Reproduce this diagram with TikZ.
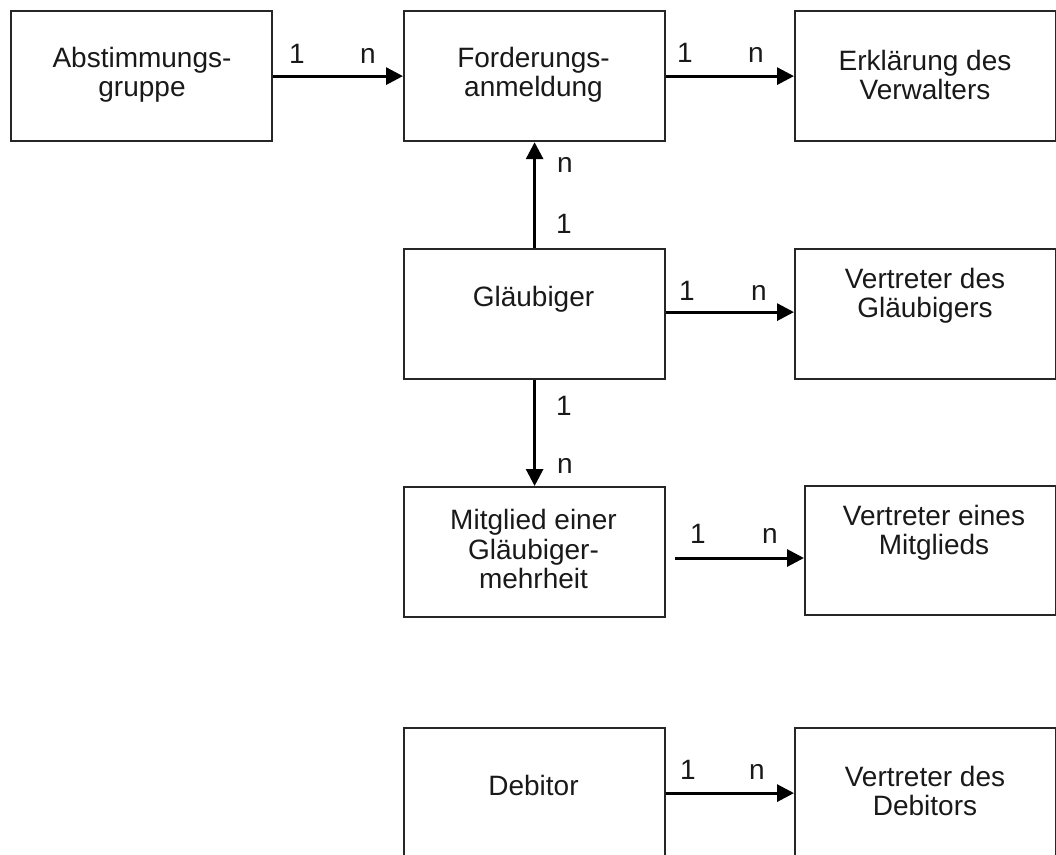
\documentclass[tikz,border=0pt]{standalone}
\usepackage{fontspec}
\setmainfont{Liberation Sans}
\usetikzlibrary{arrows.meta}
\begin{document}
\begin{tikzpicture}[x=1pt,y=-1pt,
  box/.style={draw=black!85,line width=2.2pt,minimum width=261pt,minimum height=130pt,inner sep=0pt,anchor=north west},
  txt/.style={align=center,font=\fontsize{28}{29.5}\selectfont,text=black!90,inner sep=0pt},
  lab/.style={font=\fontsize{28}{29.5}\selectfont,text=black!90,inner sep=0pt,anchor=base},
  conn/.style={line width=3pt,draw=black,-{Triangle[length=17pt,width=17pt]}}]
\useasboundingbox (0,0) rectangle (1056,854);
\begin{scope}
\clip (0,0) rectangle (1056,854);
% boxes
\node[box] (ab) at (10,10) {};
\node[box] (fo) at (403,10) {};
\node[box] (er) at (794,10) {};
\node[box] (gl) at (403,248) {};
\node[box] (vg) at (794,248) {};
\node[box] (mi) at (403,486) {};
\node[box,minimum width=251pt,minimum height=129pt] (vm) at (804,485) {};
\node[box] (de) at (403,727) {};
\node[box] (vd) at (794,727) {};
\end{scope}
% texts
\node[txt] (tab) at (142,75) {Abstimmungs-\\gruppe};
\node[txt] (tfo) at (533.5,75) {Forderungs-\\anmeldung};
\node[txt] (ter) at (925,75) {Erklärung des\\Verwalters};
\node[txt] (tgl) at (533.5,299) {Gläubiger};
\node[txt] (tvg) at (925,296) {Vertreter des\\Gläubigers};
\node[txt] (tmi) at (533.5,549) {Mitglied einer\\Gläubiger-\\mehrheit};
\node[txt] (tvm) at (934,533) {Vertreter eines\\Mitglieds};
\node[txt] (tde) at (533.5,785) {Debitor};
\node[txt] (tvd) at (925,791) {Vertreter des\\Debitors};
% connectors
\draw[conn] (ab.east) -- (fo.west);
\draw[conn] (fo.east) -- (er.west);
\draw[conn] (gl.north) -- (fo.south);
\draw[conn] ([yshift=2pt]gl.east) -- ([yshift=2pt]vg.west);
\draw[conn] (gl.south) -- (mi.north);
\coordinate (ms) at (675,558);
\draw[conn] (ms) -- (ms -| vm.west);
\draw[conn] (de.east) -- (de.east -| vd.west);
% labels
\node[lab] (l1a) at (297,63) {1};
\node[lab] (l1b) at (368,63) {n};
\node[lab] (l2a) at (685,62) {1};
\node[lab] (l2b) at (756,62) {n};
\node[lab] (l3a) at (565,172) {n};
\node[lab] (l3b) at (564,233) {1};
\node[lab] (l4a) at (687,300) {1};
\node[lab] (l4b) at (759,300) {n};
\node[lab] (l5a) at (564,415) {1};
\node[lab] (l5b) at (565,473) {n};
\node[lab] (l6a) at (698,543) {1};
\node[lab] (l6b) at (770,543) {n};
\node[lab] (l7a) at (688,779) {1};
\node[lab] (l7b) at (757,779) {n};
\end{tikzpicture}
\end{document}
